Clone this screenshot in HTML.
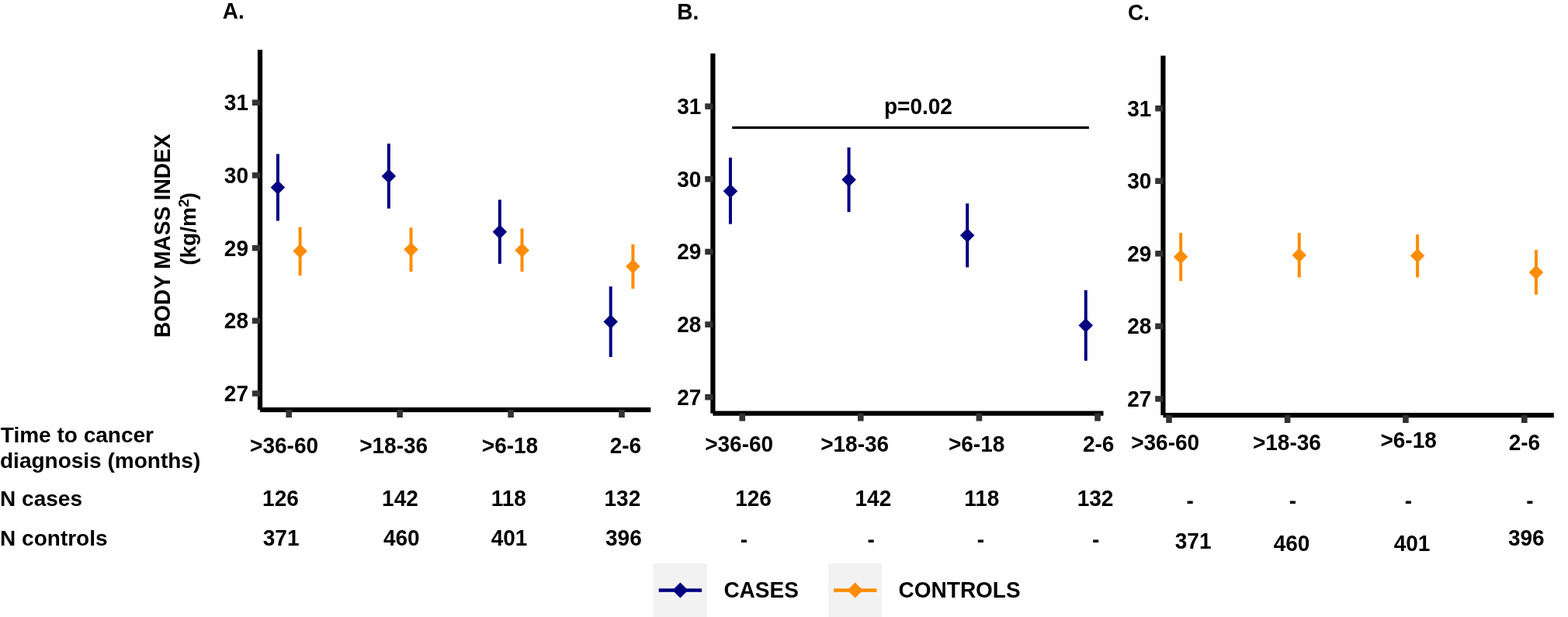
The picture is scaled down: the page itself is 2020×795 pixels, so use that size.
<!DOCTYPE html>
<html><head><meta charset="utf-8"><style>
html,body{margin:0;padding:0;background:#fff;}
svg{display:block;}
text{font-family:"Liberation Sans",Arial,sans-serif;font-weight:bold;fill:#000;}
</style></head><body>
<svg width="2020" height="795" viewBox="0 0 2020 795">
<rect width="2020" height="795" fill="#fff"/>
<rect x="331.90" y="64.20" width="6.20" height="463.80" fill="#000"/>
<rect x="335.00" y="524.90" width="503.30" height="6.20" fill="#000"/>
<rect x="324.80" y="128.40" width="10.20" height="7.60" fill="#333333"/>
<text transform="translate(320.00,142.20) scale(1,1.045)" font-size="28" text-anchor="end">31</text>
<rect x="324.80" y="222.10" width="10.20" height="7.60" fill="#333333"/>
<text transform="translate(320.00,235.90) scale(1,1.045)" font-size="28" text-anchor="end">30</text>
<rect x="324.80" y="315.80" width="10.20" height="7.60" fill="#333333"/>
<text transform="translate(320.00,329.60) scale(1,1.045)" font-size="28" text-anchor="end">29</text>
<rect x="324.80" y="409.50" width="10.20" height="7.60" fill="#333333"/>
<text transform="translate(320.00,423.30) scale(1,1.045)" font-size="28" text-anchor="end">28</text>
<rect x="324.80" y="503.20" width="10.20" height="7.60" fill="#333333"/>
<text transform="translate(320.00,517.00) scale(1,1.045)" font-size="28" text-anchor="end">27</text>
<rect x="368.40" y="528.00" width="7.60" height="10.00" fill="#333333"/>
<rect x="511.30" y="528.00" width="7.60" height="10.00" fill="#333333"/>
<rect x="654.30" y="528.00" width="7.60" height="10.00" fill="#333333"/>
<rect x="797.20" y="528.00" width="7.60" height="10.00" fill="#333333"/>
<rect x="355.90" y="198.40" width="4.00" height="86.10" fill="#000080"/>
<polygon points="357.90,232.25 367.15,241.50 357.90,250.75 348.65,241.50" fill="#000080"/>
<rect x="498.80" y="185.10" width="4.00" height="83.60" fill="#000080"/>
<polygon points="500.80,217.65 510.05,226.90 500.80,236.15 491.55,226.90" fill="#000080"/>
<rect x="641.80" y="257.40" width="4.00" height="82.50" fill="#000080"/>
<polygon points="643.80,289.55 653.05,298.80 643.80,308.05 634.55,298.80" fill="#000080"/>
<rect x="784.70" y="369.10" width="4.00" height="90.90" fill="#000080"/>
<polygon points="786.70,405.35 795.95,414.60 786.70,423.85 777.45,414.60" fill="#000080"/>
<rect x="384.60" y="292.60" width="4.00" height="62.40" fill="#FF8C00"/>
<polygon points="386.60,314.25 395.85,323.50 386.60,332.75 377.35,323.50" fill="#FF8C00"/>
<rect x="527.50" y="293.30" width="4.00" height="56.70" fill="#FF8C00"/>
<polygon points="529.50,312.25 538.75,321.50 529.50,330.75 520.25,321.50" fill="#FF8C00"/>
<rect x="670.50" y="294.40" width="4.00" height="55.60" fill="#FF8C00"/>
<polygon points="672.50,313.25 681.75,322.50 672.50,331.75 663.25,322.50" fill="#FF8C00"/>
<rect x="813.40" y="314.70" width="4.00" height="57.30" fill="#FF8C00"/>
<polygon points="815.40,334.05 824.65,343.30 815.40,352.55 806.15,343.30" fill="#FF8C00"/>
<rect x="915.30" y="68.90" width="6.20" height="463.70" fill="#000"/>
<rect x="918.40" y="529.50" width="503.10" height="6.20" fill="#000"/>
<rect x="908.20" y="133.30" width="10.20" height="7.60" fill="#333333"/>
<text transform="translate(903.30,147.10) scale(1,1.045)" font-size="28" text-anchor="end">31</text>
<rect x="908.20" y="226.95" width="10.20" height="7.60" fill="#333333"/>
<text transform="translate(903.30,240.75) scale(1,1.045)" font-size="28" text-anchor="end">30</text>
<rect x="908.20" y="320.60" width="10.20" height="7.60" fill="#333333"/>
<text transform="translate(903.30,334.40) scale(1,1.045)" font-size="28" text-anchor="end">29</text>
<rect x="908.20" y="414.25" width="10.20" height="7.60" fill="#333333"/>
<text transform="translate(903.30,428.05) scale(1,1.045)" font-size="28" text-anchor="end">28</text>
<rect x="908.20" y="507.90" width="10.20" height="7.60" fill="#333333"/>
<text transform="translate(903.30,521.70) scale(1,1.045)" font-size="28" text-anchor="end">27</text>
<rect x="952.40" y="532.60" width="7.60" height="10.00" fill="#333333"/>
<rect x="1105.00" y="532.60" width="7.60" height="10.00" fill="#333333"/>
<rect x="1257.60" y="532.60" width="7.60" height="10.00" fill="#333333"/>
<rect x="1410.20" y="532.60" width="7.60" height="10.00" fill="#333333"/>
<rect x="938.95" y="203.20" width="4.00" height="85.50" fill="#000080"/>
<polygon points="940.95,236.95 950.20,246.20 940.95,255.45 931.70,246.20" fill="#000080"/>
<rect x="1091.55" y="190.00" width="4.00" height="83.20" fill="#000080"/>
<polygon points="1093.55,222.15 1102.80,231.40 1093.55,240.65 1084.30,231.40" fill="#000080"/>
<rect x="1244.15" y="262.20" width="4.00" height="82.20" fill="#000080"/>
<polygon points="1246.15,294.05 1255.40,303.30 1246.15,312.55 1236.90,303.30" fill="#000080"/>
<rect x="1396.75" y="373.90" width="4.00" height="90.90" fill="#000080"/>
<polygon points="1398.75,410.05 1408.00,419.30 1398.75,428.55 1389.50,419.30" fill="#000080"/>
<rect x="943.20" y="162.80" width="459.70" height="3.30" fill="#000"/>
<text transform="translate(1139.00,147.20) scale(1,1.03)" font-size="28">p=0.02</text>
<rect x="1495.30" y="71.70" width="6.20" height="463.30" fill="#000"/>
<rect x="1498.40" y="531.90" width="503.40" height="6.20" fill="#000"/>
<rect x="1488.20" y="135.90" width="10.20" height="7.60" fill="#333333"/>
<text transform="translate(1483.30,149.70) scale(1,1.045)" font-size="28" text-anchor="end">31</text>
<rect x="1488.20" y="229.45" width="10.20" height="7.60" fill="#333333"/>
<text transform="translate(1483.30,243.25) scale(1,1.045)" font-size="28" text-anchor="end">30</text>
<rect x="1488.20" y="323.00" width="10.20" height="7.60" fill="#333333"/>
<text transform="translate(1483.30,336.80) scale(1,1.045)" font-size="28" text-anchor="end">29</text>
<rect x="1488.20" y="416.55" width="10.20" height="7.60" fill="#333333"/>
<text transform="translate(1483.30,430.35) scale(1,1.045)" font-size="28" text-anchor="end">28</text>
<rect x="1488.20" y="510.10" width="10.20" height="7.60" fill="#333333"/>
<text transform="translate(1483.30,523.90) scale(1,1.045)" font-size="28" text-anchor="end">27</text>
<rect x="1502.20" y="535.00" width="7.60" height="10.00" fill="#333333"/>
<rect x="1654.80" y="535.00" width="7.60" height="10.00" fill="#333333"/>
<rect x="1807.10" y="535.00" width="7.60" height="10.00" fill="#333333"/>
<rect x="1960.00" y="535.00" width="7.60" height="10.00" fill="#333333"/>
<rect x="1519.15" y="300.10" width="4.00" height="61.90" fill="#FF8C00"/>
<polygon points="1521.15,321.65 1530.40,330.90 1521.15,340.15 1511.90,330.90" fill="#FF8C00"/>
<rect x="1671.75" y="300.10" width="4.00" height="57.30" fill="#FF8C00"/>
<polygon points="1673.75,319.55 1683.00,328.80 1673.75,338.05 1664.50,328.80" fill="#FF8C00"/>
<rect x="1824.05" y="302.20" width="4.00" height="55.10" fill="#FF8C00"/>
<polygon points="1826.05,320.25 1835.30,329.50 1826.05,338.75 1816.80,329.50" fill="#FF8C00"/>
<rect x="1976.95" y="322.00" width="4.00" height="57.60" fill="#FF8C00"/>
<polygon points="1978.95,341.65 1988.20,350.90 1978.95,360.15 1969.70,350.90" fill="#FF8C00"/>
<text transform="translate(286.80,23.70) scale(1,1.045)" font-size="28">A.</text>
<text transform="translate(872.20,24.70) scale(1,1.045)" font-size="28">B.</text>
<text transform="translate(1453.00,26.00) scale(1,1.045)" font-size="28">C.</text>
<text transform="translate(322.10,584.30) scale(1,1.045)" font-size="28">&gt;36-60</text>
<text transform="translate(463.20,584.30) scale(1,1.045)" font-size="28">&gt;18-36</text>
<text transform="translate(620.80,584.30) scale(1,1.045)" font-size="28">&gt;6-18</text>
<text transform="translate(785.70,584.30) scale(1,1.045)" font-size="28">2-6</text>
<text transform="translate(908.20,582.30) scale(1,1.045)" font-size="28">&gt;36-60</text>
<text transform="translate(1057.20,582.30) scale(1,1.045)" font-size="28">&gt;18-36</text>
<text transform="translate(1221.90,582.30) scale(1,1.045)" font-size="28">&gt;6-18</text>
<text transform="translate(1394.90,582.30) scale(1,1.045)" font-size="28">2-6</text>
<text transform="translate(1457.20,579.90) scale(1,1.045)" font-size="28">&gt;36-60</text>
<text transform="translate(1613.90,579.60) scale(1,1.045)" font-size="28">&gt;18-36</text>
<text transform="translate(1778.40,576.50) scale(1,1.045)" font-size="28">&gt;6-18</text>
<text transform="translate(1943.70,580.40) scale(1,1.045)" font-size="28">2-6</text>
<text transform="translate(338.10,651.80) scale(1,1.045)" font-size="28">126</text>
<text transform="translate(492.10,651.80) scale(1,1.045)" font-size="28">142</text>
<text transform="translate(632.70,651.80) scale(1,1.045)" font-size="28">118</text>
<text transform="translate(778.50,651.80) scale(1,1.045)" font-size="28">132</text>
<text transform="translate(947.20,652.00) scale(1,1.045)" font-size="28">126</text>
<text transform="translate(1101.50,652.00) scale(1,1.045)" font-size="28">142</text>
<text transform="translate(1242.20,652.00) scale(1,1.045)" font-size="28">118</text>
<text transform="translate(1387.70,652.00) scale(1,1.045)" font-size="28">132</text>
<text transform="translate(1528.60,655.00) scale(1,1.045)" font-size="28">-</text>
<text transform="translate(1660.70,655.00) scale(1,1.045)" font-size="28">-</text>
<text transform="translate(1809.80,655.00) scale(1,1.045)" font-size="28">-</text>
<text transform="translate(1966.30,655.00) scale(1,1.045)" font-size="28">-</text>
<text transform="translate(338.80,702.60) scale(1,1.045)" font-size="28">371</text>
<text transform="translate(493.90,702.60) scale(1,1.045)" font-size="28">460</text>
<text transform="translate(632.70,702.60) scale(1,1.045)" font-size="28">401</text>
<text transform="translate(780.00,702.60) scale(1,1.045)" font-size="28">396</text>
<text transform="translate(953.80,704.60) scale(1,1.045)" font-size="28">-</text>
<text transform="translate(1117.40,704.60) scale(1,1.045)" font-size="28">-</text>
<text transform="translate(1258.80,704.60) scale(1,1.045)" font-size="28">-</text>
<text transform="translate(1406.90,704.60) scale(1,1.045)" font-size="28">-</text>
<text transform="translate(1513.80,706.60) scale(1,1.045)" font-size="28">371</text>
<text transform="translate(1640.70,710.20) scale(1,1.045)" font-size="28">460</text>
<text transform="translate(1795.70,710.20) scale(1,1.045)" font-size="28">401</text>
<text transform="translate(1942.90,702.60) scale(1,1.045)" font-size="28">396</text>
<text transform="translate(0.80,569.80) scale(1,1.0)" font-size="28">Time to cancer</text>
<text transform="translate(0.00,603.20) scale(1,1.0)" font-size="28">diagnosis (months)</text>
<text transform="translate(0.10,652.10) scale(1,1.0)" font-size="28">N cases</text>
<text transform="translate(0.10,703.00) scale(1,1.0)" font-size="28">N controls</text>
<text transform="translate(218.6,434.9) rotate(-90) scale(1,1.045)" font-size="28">BODY MASS INDEX</text>
<text transform="translate(251.7,341.8) rotate(-90)" font-size="28">(kg/m<tspan font-size="19" dy="-8.5">2</tspan><tspan dy="8.5" dx="-1">)</tspan></text>
<rect x="841.80" y="725.80" width="69.10" height="69.20" fill="#F2F2F2"/>
<rect x="848.70" y="758.30" width="55.40" height="4.50" fill="#000080"/>
<polygon points="876.40,750.60 886.40,760.60 876.40,770.60 866.40,760.60" fill="#000080"/>
<text transform="translate(932.40,769.70) scale(1,1.045)" font-size="28">CASES</text>
<rect x="1067.10" y="725.80" width="68.80" height="69.20" fill="#F2F2F2"/>
<rect x="1074.00" y="758.30" width="55.40" height="4.50" fill="#FF8C00"/>
<polygon points="1101.60,750.60 1111.60,760.60 1101.60,770.60 1091.60,760.60" fill="#FF8C00"/>
<text transform="translate(1157.60,769.70) scale(1,1.045)" font-size="28">CONTROLS</text>
</svg>
</body></html>
